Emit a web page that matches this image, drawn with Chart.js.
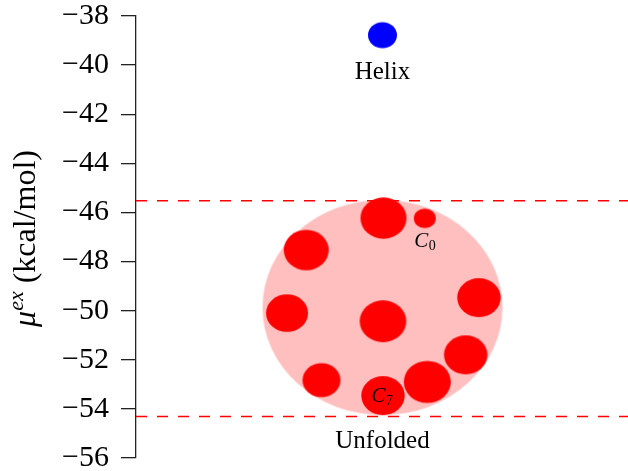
<!DOCTYPE html>
<html>
<head>
<meta charset="utf-8">
<script src="https://cdn.jsdelivr.net/npm/chart.js@4/dist/chart.umd.min.js"></script>
<style>
  html, body { margin: 0; padding: 0; background: #fff; overflow: hidden; }
  canvas { display: block; }
</style>
</head>
<body>
<canvas id="chart" width="628" height="471"></canvas>
<script>
// y axis ticks (kcal/mol)
const yTicks = [-56, -54, -52, -50, -48, -46, -44, -42, -40, -38];
const xRange = [0, 10];

// helix state
const helixX = [5.01];
const helixY = [-38.78];

// unfolded ensemble: the cloud and its conformers C0..C9
const cloudX = [5.01];
const cloudY = [-49.87];
const confX = [5.87, 5.03, 3.46, 3.07, 5.02, 6.97, 6.70, 5.02, 5.92, 3.77];
const confY = [-46.24, -46.23, -47.53, -50.10, -50.43, -49.47, -51.80, -53.46, -52.90, -52.83];

// dashed band round the unfolded ensemble
const bandY = [-45.52, -54.31];

// text notes
const noteText = ['Helix', 'Unfolded', 'C0', 'C7'];
const noteX = [5.01, 5.01, 5.87, 5.00];
const noteY = [-40.55, -55.59, -47.39, -53.70];

// ---- styling ----
const SERIF = '"Liberation Serif", serif';
const SQUASH = 1.115; // markers are a bit wider than tall
const helixRadius = 14.5;
const cloudRadius = 120;
const confRadius = [11, 23, 22.5, 21, 23.3, 21.7, 21.7, 21.7, 23.5, 19];

function ellipse(rx, color) {
    const ry = rx / SQUASH;
    const c = document.createElement('canvas');
    c.width = Math.ceil(rx * 2) + 2;
    c.height = Math.ceil(ry * 2) + 2;
    const g = c.getContext('2d');
    g.fillStyle = color;
    g.beginPath();
    g.ellipse(c.width / 2, c.height / 2, rx, ry, 0, 0, Math.PI * 2);
    g.fill();
    return c;
}

const confSprites = confRadius.map(r => ellipse(r, '#ff0000'));
const toPts = (xs, ys) => xs.map((x, i) => ({ x, y: ys[i] }));
const bandLine = y => xRange.map(x => ({ x, y }));

Chart.defaults.font.family = SERIF;

// rotated y title with a superscript
const yTitle = {
    id: 'yTitle',
    afterDraw(chart) {
        const { ctx, chartArea } = chart;
        const cy = (chartArea.top + chartArea.bottom) / 2 + 1.5;
        const parts = [
            { t: 'μ', f: 'italic 32px ' + SERIF, dy: 0 },
            { t: 'ex', f: 'italic 22px ' + SERIF, dy: -12 },
            { t: ' (kcal/mol)', f: '32px ' + SERIF, dy: 0 }
        ];
        ctx.save();
        ctx.translate(35, cy);
        ctx.rotate(-Math.PI / 2);
        ctx.fillStyle = '#000';
        ctx.textBaseline = 'alphabetic';
        let w = 0;
        parts.forEach(p => { ctx.font = p.f; p.w = ctx.measureText(p.t).width; w += p.w; });
        let x = -w / 2;
        parts.forEach(p => { ctx.font = p.f; ctx.fillText(p.t, x, p.dy); x += p.w; });
        ctx.restore();
    }
};

// text notes, C<n> gets italic letter and subscript
const notes = {
    id: 'notes',
    afterDatasetsDraw(chart) {
        const { ctx, scales } = chart;
        ctx.save();
        ctx.fillStyle = '#000';
        ctx.textBaseline = 'alphabetic';
        noteText.forEach((t, i) => {
            const px = scales.x.getPixelForValue(noteX[i]);
            const py = scales.y.getPixelForValue(noteY[i]);
            const m = t.match(/^([A-Z])(\d+)$/);
            if (m) {
                ctx.font = 'italic 21px ' + SERIF;
                const w1 = ctx.measureText(m[1]).width;
                ctx.font = '14px ' + SERIF;
                const w2 = ctx.measureText(m[2]).width;
                let x = px - (w1 + w2) / 2;
                ctx.textAlign = 'left';
                ctx.font = 'italic 21px ' + SERIF;
                ctx.fillText(m[1], x, py);
                ctx.font = '14px ' + SERIF;
                ctx.fillText(m[2], x + w1 + 0.5, py + 3);
            } else {
                ctx.font = '25px ' + SERIF;
                ctx.textAlign = 'center';
                ctx.fillText(t, px, py);
            }
        });
        ctx.restore();
    }
};

const ctx = document.getElementById('chart').getContext('2d');

new Chart(ctx, {
    type: 'scatter',
    data: {
        datasets: [
            {
                label: 'Helix',
                data: toPts(helixX, helixY),
                pointStyle: ellipse(helixRadius, '#0000ff'),
                pointRadius: helixRadius,
                pointBorderWidth: 0,
                order: 0
            },
            {
                label: 'Conformers',
                data: toPts(confX, confY),
                pointStyle: c => confSprites[c.dataIndex],
                pointRadius: c => confRadius[c.dataIndex],
                pointBorderWidth: 0,
                order: 1
            },
            {
                label: 'Upper',
                data: bandLine(bandY[0]),
                showLine: true,
                borderColor: '#ff0000',
                borderWidth: 1.5,
                borderDash: [11, 10],
                pointRadius: 0,
                order: 2
            },
            {
                label: 'Lower',
                data: bandLine(bandY[1]),
                showLine: true,
                borderColor: '#ff0000',
                borderWidth: 1.5,
                borderDash: [11, 10],
                pointRadius: 0,
                order: 2
            },
            {
                label: 'Unfolded',
                data: toPts(cloudX, cloudY),
                pointStyle: ellipse(cloudRadius, '#ffbfbf'),
                pointRadius: cloudRadius,
                pointBorderWidth: 0,
                order: 3
            }
        ]
    },
    options: {
        responsive: false,
        animation: false,
        events: [],
        layout: { autoPadding: false, padding: 0 },
        plugins: {
            legend: { display: false },
            tooltip: { enabled: false }
        },
        scales: {
            x: {
                type: 'linear',
                display: false,
                min: xRange[0],
                max: xRange[1]
            },
            y: {
                min: yTicks[0],
                max: yTicks[yTicks.length - 1],
                afterBuildTicks: axis => { axis.ticks = yTicks.map(v => ({ value: v })); },
                afterFit: axis => {
                    axis.width = 136;
                    axis.paddingTop = 16;
                    axis.paddingBottom = 13;
                },
                ticks: {
                    color: '#000',
                    padding: 12,
                    autoSkip: false,
                    font: { size: 30, lineHeight: 1 },
                    callback: v => (v < 0 ? '\u2212' : '') + Math.abs(v)
                },
                grid: {
                    drawOnChartArea: false,
                    tickLength: 15,
                    color: '#222',
                    lineWidth: 1.3
                },
                border: { color: '#222', width: 1.3 }
            }
        }
    },
    plugins: [yTitle, notes]
});
</script>
</body>
</html>
